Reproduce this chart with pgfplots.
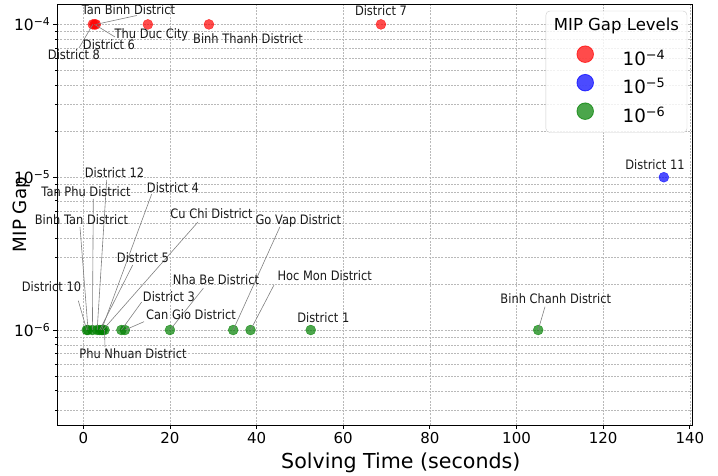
\documentclass[border=0pt]{standalone}
\usepackage{pgfplots}
\pgfplotsset{compat=1.18}
\usepackage{fontspec}
\usepackage{graphicx}
\setmainfont{DejaVu Sans}
\newfontfamily\cf{DejaVu Sans}[FakeStretch=0.88]
\newcommand{\tenpow}[1]{10\raisebox{0.33em}{\scalebox{0.7}{−#1}}}
\begin{document}
\begin{tikzpicture}[
  annot/.style={font=\cf\fontsize{13}{15}\selectfont, anchor=base, inner sep=0pt, text=black!90},
  leader/.style={gray, line width=0.6pt}]
\begin{axis}[
  scale only axis, width=634.7pt, height=421pt,
  xmin=-6, xmax=140.5,
  ymode=log, ymin=2.39e-7, ymax=1.36e-4,
  axis line style={black, line width=0.9pt},
  tick align=outside, tick pos=left,
  major tick length=4pt, minor tick length=2.3pt,
  every tick/.style={black, line width=0.8pt},
  xtick={0,20,40,60,80,100,120,140},
  ytick={1e-6,1e-5,1e-4},
  yticklabels={\tenpow6,\tenpow5,\tenpow4},
  minor ytick={3e-7,4e-7,5e-7,6e-7,7e-7,8e-7,9e-7,2e-6,3e-6,4e-6,5e-6,6e-6,7e-6,8e-6,9e-6,2e-5,3e-5,4e-5,5e-5,6e-5,7e-5,8e-5,9e-5},
  xmajorgrids, ymajorgrids, yminorgrids,
  grid style={gray!55, dash pattern=on 2pt off 1.2pt, line width=0.5pt},
  /pgf/number format/assume math mode=true,
  x tick label style={font=\fontsize{15}{17}\selectfont},
  y tick label style={font=\fontsize{15.5}{17}\selectfont},
  xlabel={Solving Time (seconds)},
  xlabel style={font=\fontsize{20.6}{24}\selectfont, at={(axis description cs:0.5412,-0.1029)}, anchor=base},
  ylabel={MIP Gap},
  ylabel style={font=\fontsize{18.3}{22}\selectfont, at={(axis description cs:-0.0482,0.5)}, anchor=base},
  legend style={at={(axis description cs:0.9921,0.9834)}, anchor=north east, draw=black!20, rounded corners=4pt, fill=white, fill opacity=0.8, text opacity=1, draw opacity=1, inner xsep=8pt, inner ysep=5pt, outer sep=0pt, font=\fontsize{18.3}{20}\selectfont, row sep=3.5pt, column sep=0pt, nodes={inner sep=0pt, text height=15pt, text depth=5pt}},
  legend cell align=left,
]
\addlegendimage{empty legend}
\addlegendentry[text depth=11pt]{\hspace*{-68.7pt}{\fontsize{16.5}{18}\selectfont MIP Gap Levels}}

\addplot[only marks, mark=*, mark size=5pt, mark options={fill=red, draw=red, fill opacity=0.7, draw opacity=0.7},
  legend image code/.code={\path[draw=none, fill=none] (0pt,-5pt) rectangle (68.7pt,15pt); \filldraw[fill=red, draw=red, fill opacity=0.7, draw opacity=0.7, line width=0.8pt, sharp corners] (31.3pt,6.3pt) circle (8.3pt);}]
  coordinates {(2.2,1e-4) (2.6,1e-4) (2.9,1e-4) (14.9,1e-4) (29.0,1e-4) (68.7,1e-4)};
\addlegendentry{\tenpow4}

\addplot[only marks, mark=*, mark size=5pt, mark options={fill=blue, draw=blue, fill opacity=0.7, draw opacity=0.7},
  legend image code/.code={\path[draw=none, fill=none] (0pt,-5pt) rectangle (68.7pt,15pt); \filldraw[fill=blue, draw=blue, fill opacity=0.7, draw opacity=0.7, line width=0.8pt, sharp corners] (31.3pt,6.3pt) circle (8.3pt);}]
  coordinates {(134.0,1e-5)};
\addlegendentry{\tenpow5}

\addplot[only marks, mark=*, mark size=5pt, mark options={fill={rgb,255:red,0;green,128;blue,0}, draw={rgb,255:red,0;green,128;blue,0}, fill opacity=0.7, draw opacity=0.7},
  legend image code/.code={\path[draw=none, fill=none] (0pt,-5pt) rectangle (68.7pt,15pt); \filldraw[fill={rgb,255:red,0;green,128;blue,0}, draw={rgb,255:red,0;green,128;blue,0}, fill opacity=0.7, draw opacity=0.7, line width=0.8pt, sharp corners] (31.3pt,6.3pt) circle (8.3pt);}]
  coordinates {(0.8,1e-6) (1.1,1e-6) (2.1,1e-6) (3.2,1e-6) (3.8,1e-6) (4.2,1e-6) (4.5,1e-6) (4.9,1e-6) (8.8,1e-6) (9.6,1e-6) (20.0,1e-6) (34.6,1e-6) (38.6,1e-6) (52.5,1e-6) (105.0,1e-6)};
\addlegendentry{\tenpow6}

% anchor points of the annotations (data positions)
\coordinate (d8) at (axis cs:2.2,1e-4);
\coordinate (d6) at (axis cs:2.6,1e-4);
\coordinate (tb) at (axis cs:2.9,1e-4);
\coordinate (d10) at (axis cs:0.8,1e-6);
\coordinate (bt) at (axis cs:1.1,1e-6);
\coordinate (tp) at (axis cs:2.1,1e-6);
\coordinate (d12) at (axis cs:3.2,1e-6);
\coordinate (d5) at (axis cs:3.8,1e-6);
\coordinate (d4) at (axis cs:4.2,1e-6);
\coordinate (cc) at (axis cs:4.5,1e-6);
\coordinate (pn) at (axis cs:4.9,1e-6);
\coordinate (d3) at (axis cs:8.8,1e-6);
\coordinate (cg) at (axis cs:9.6,1e-6);
\coordinate (nb) at (axis cs:20.0,1e-6);
\coordinate (gv) at (axis cs:34.6,1e-6);
\coordinate (hm) at (axis cs:38.6,1e-6);
\coordinate (bc) at (axis cs:105.0,1e-6);
\end{axis}

\begin{scope}[shift={(current axis.north west)}]
\begin{scope}[x=1pt, y=-1pt, shift={(-57.3,-4)}]
% leader lines
\draw[leader] (tb) -- (136.7,15.5);
\draw[leader] (d6) -- (115,37);
\draw[leader] (d8) -- (79,48);
\draw[leader] (d12) -- (106.7,180);
\draw[leader] (tp) -- (93.3,199);
\draw[leader] (bt) -- (80,227);
\draw[leader] (d4) -- (151.7,194);
\draw[leader] (cc) -- (198,222);
\draw[leader] (d5) -- (132.7,265);
\draw[leader] (d10) -- (78.3,300.7);
\draw[leader] (nb) -- (203.3,288.3);
\draw[leader] (d3) -- (141.7,302);
\draw[leader] (cg) -- (144,321.7);
\draw[leader] (pn) -- (105,347);
\draw[leader] (gv) -- (280,226.7);
\draw[leader] (hm) -- (274,285);
\draw[leader] (bc) -- (545,306.7);
% labels
\node[annot] at (128.5,14.5) {Tan Binh District};
\node[annot] at (151.5,39) {Thu Duc City};
\node[annot] at (109,49.5) {District 6};
\node[annot] at (74,59.5) {District 8};
\node[annot] at (248,43.5) {Binh Thanh District};
\node[annot] at (381,15.5) {District 7};
\node[annot] at (655,170) {District 11};
\node[annot] at (114.5,178) {District 12};
\node[annot] at (86,197) {Tan Phu District};
\node[annot] at (81.5,225) {Binh Tan District};
\node[annot] at (173,192.7) {District 4};
\node[annot] at (211.5,219) {Cu Chi District};
\node[annot] at (143,262.3) {District 5};
\node[annot] at (51.5,291.7) {District 10};
\node[annot] at (216,285) {Nha Be District};
\node[annot] at (169,301.7) {District 3};
\node[annot] at (191,319.3) {Can Gio District};
\node[annot] at (133,359) {Phu Nhuan District};
\node[annot] at (298.3,225) {Go Vap District};
\node[annot] at (324.7,281) {Hoc Mon District};
\node[annot] at (323.3,322.3) {District 1};
\node[annot] at (555.8,304) {Binh Chanh District};
\pgfresetboundingbox
\path[use as bounding box] (0,0) rectangle (718,476);
\end{scope}
\end{scope}
\end{tikzpicture}
\end{document}
